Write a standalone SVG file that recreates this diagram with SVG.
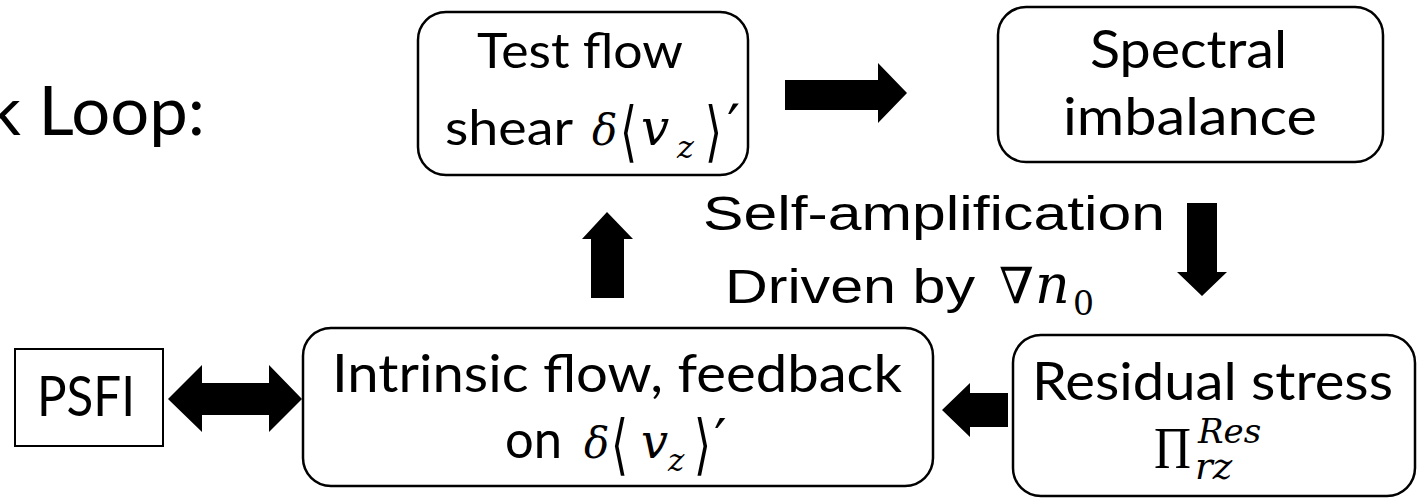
<svg xmlns="http://www.w3.org/2000/svg" width="1422" height="498" viewBox="0 0 1422 498">
<style>
.box{fill:#fff;stroke:#000;stroke-width:2.5}
.t{font-family:Lato,"Open Sans","Liberation Sans",sans-serif;fill:#000}
.a{font-family:"Liberation Sans",Arial,sans-serif;fill:#000}
.m{font-family:"DejaVu Serif","Liberation Serif",serif;fill:#000}
.i{font-style:italic}
.arrow{fill:#000;stroke:none}
</style>
<rect width="1422" height="498" fill="#fff"/>
<text class="t" x="-14" y="135" font-size="67" textLength="219" lengthAdjust="spacingAndGlyphs">k Loop:</text>
<g id="connectors">
<polygon class="arrow" points="785,80 878,80 878,63 907,93 878,123 878,110 785,110"/>
<polygon class="arrow" points="1187,203 1217,203 1217,272 1227,272 1202,296 1177,272 1187,272"/>
<polygon class="arrow" points="1008,393 970,393 970,383 942,410 970,437 970,427 1008,427"/>
<polygon class="arrow" points="591,298 591,239 582,239 607,212 633,239 624,239 624,298"/>
<polygon class="arrow" points="168,399 202,365 202,383 269,383 269,365 302,399 269,432 269,415 202,415 202,432"/>
</g>
<g id="test-flow">
<rect class="box" x="418" y="12" width="330" height="163" rx="28"/>
<text class="t" x="477" y="68" font-size="49" textLength="206" lengthAdjust="spacingAndGlyphs">Test flow</text>
<text class="t" x="445" y="145" font-size="49" textLength="128" lengthAdjust="spacingAndGlyphs">shear</text>
<text class="m"><tspan class="i" x="592" y="145" font-size="42">δ</tspan><tspan x="620" y="154" font-size="66" textLength="17" lengthAdjust="spacingAndGlyphs">⟨</tspan><tspan class="i" x="641" y="145" font-size="50">v</tspan><tspan class="i" x="677" y="158" font-size="32">z</tspan><tspan x="705" y="154" font-size="66" textLength="17" lengthAdjust="spacingAndGlyphs">⟩</tspan><tspan x="727" y="146" font-size="58">′</tspan></text>
</g>
<g id="spectral">
<rect class="box" x="998" y="7" width="385" height="155" rx="28"/>
<text class="t" x="1090" y="68" font-size="53" textLength="197" lengthAdjust="spacingAndGlyphs">Spectral</text>
<text class="t" x="1063" y="135" font-size="53" textLength="254" lengthAdjust="spacingAndGlyphs">imbalance</text>
</g>
<g id="label">
<text class="a" x="703" y="230" font-size="49" textLength="462" lengthAdjust="spacingAndGlyphs">Self-amplification</text>
<text class="a" x="725" y="303" font-size="49" textLength="250" lengthAdjust="spacingAndGlyphs">Driven by</text>
<text class="m"><tspan class="i" x="999" y="303" font-size="50">∇</tspan><tspan class="i" x="1035" y="303" font-size="54">n</tspan><tspan x="1073" y="315" font-size="33">0</tspan></text>
</g>
<g id="psfi">
<rect x="15" y="349" width="148" height="97" fill="#fff" stroke="#000" stroke-width="2"/>
<text class="t" x="37" y="416" font-size="56" textLength="98" lengthAdjust="spacingAndGlyphs">PSFI</text>
</g>
<g id="intrinsic">
<rect class="box" x="303" y="328" width="630" height="158" rx="28"/>
<text class="t" x="332" y="392" font-size="53" textLength="570" lengthAdjust="spacingAndGlyphs">Intrinsic flow, feedback</text>
<text class="t" x="505" y="458" font-size="53" textLength="57" lengthAdjust="spacingAndGlyphs">on</text>
<text class="m"><tspan class="i" x="584" y="458" font-size="42">δ</tspan><tspan x="611" y="467" font-size="66" textLength="17" lengthAdjust="spacingAndGlyphs">⟨</tspan><tspan class="i" x="641" y="458" font-size="48">v</tspan><tspan class="i" x="668" y="471" font-size="31">z</tspan><tspan x="694" y="467" font-size="66" textLength="17" lengthAdjust="spacingAndGlyphs">⟩</tspan><tspan x="714" y="459" font-size="56">′</tspan></text>
</g>
<g id="residual">
<rect class="box" x="1013" y="335" width="402" height="161" rx="28"/>
<text class="t" x="1032" y="400" font-size="53" textLength="361" lengthAdjust="spacingAndGlyphs">Residual stress</text>
<text class="m"><tspan x="1154" y="468" font-family="Liberation Serif,serif" font-size="60" textLength="37" lengthAdjust="spacingAndGlyphs">Π</tspan><tspan class="i" x="1198" y="443" font-size="34">Res</tspan><tspan class="i" x="1195" y="479" font-size="37">rz</tspan></text>
</g>
</svg>
